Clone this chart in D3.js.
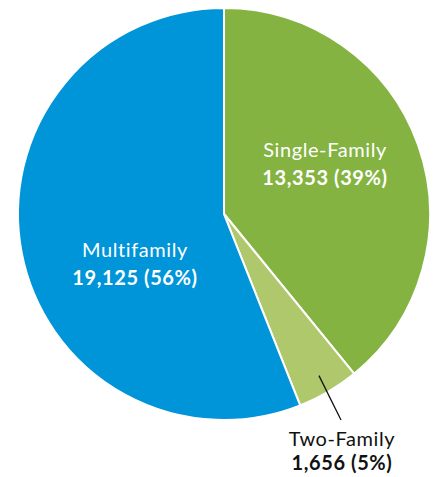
<!DOCTYPE html>
<html>
<head>
<meta charset="utf-8">
<script src="https://cdn.jsdelivr.net/npm/d3@7"></script>
<style>
  body { margin: 0; background: #fff; }
  text { font-family: Lato, "Open Sans", sans-serif; }
</style>
</head>
<body>
<div id="root"></div>
<script>
const categories = ['Single-Family', 'Two-Family', 'Multifamily'];
const values = [13353, 1656, 19125];
const percents = ['39%', '5%', '56%'];
const colors = ['#84b341', '#afc86c', '#0094d9'];

const width = 437;
const height = 477;
const cx = 224;
const cy = 214;
const radius = 206;

const svg = d3.select('#root').append('svg')
  .attr('width', width)
  .attr('height', height);

const data = categories.map((c, i) => ({ name: c, value: values[i], pct: percents[i], color: colors[i] }));

const pie = d3.pie().sort(null).value(d => d.value);
const arc = d3.arc().innerRadius(0).outerRadius(radius);
const arcs = pie(data);

const g = svg.append('g').attr('transform', `translate(${cx}, ${cy})`);

g.selectAll('path')
  .data(arcs)
  .enter()
  .append('path')
  .attr('d', arc)
  .attr('fill', d => d.data.color)
  .attr('stroke', '#fff')
  .attr('stroke-width', 2);

// label placement (relative to pie center)
const labelPos = {
  'Single-Family': { x: 101, y: -57, dy: 28, fill: '#fff' },
  'Multifamily': { x: -89, y: 43, dy: 28, fill: '#fff' },
  'Two-Family': { x: 118, y: 232, dy: 24, fill: '#111' },
};

const fmt = d3.format(',');

arcs.forEach(a => {
  const p = labelPos[a.data.name];
  const t = g.append('text')
    .attr('x', p.x)
    .attr('y', p.y)
    .attr('text-anchor', 'middle')
    .attr('fill', p.fill)
    .style('font-size', '20px')
    .style('letter-spacing', '0.6px');
  t.append('tspan').attr('x', p.x).text(a.data.name);
  t.append('tspan').attr('x', p.x).attr('dy', p.dy)
    .style('font-weight', 'bold')
    .text(`${fmt(a.data.value)} (${a.data.pct})`);
});

// leader line for Two-Family
const small = arcs[1];
const mid = (small.startAngle + small.endAngle) / 2;
const r0 = radius * 0.91;
g.append('line')
  .attr('x1', Math.sin(mid) * r0)
  .attr('y1', -Math.cos(mid) * r0)
  .attr('x2', 117)
  .attr('y2', 206)
  .attr('stroke', '#111')
  .attr('stroke-width', 1.3);
</script>
</body>
</html>
